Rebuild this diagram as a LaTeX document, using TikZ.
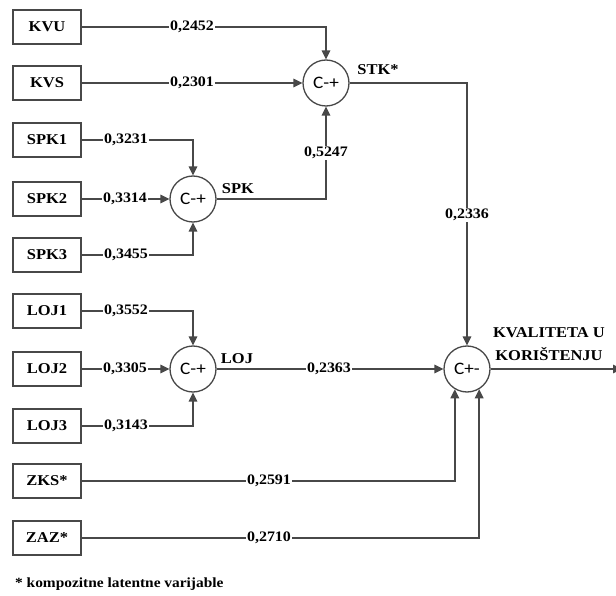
\documentclass[tikz,border=0pt]{standalone}
\usepackage{fontspec}
\setmainfont{Liberation Serif}[FakeStretch=1.1]
\newfontfamily\cfont{Carlito}[FakeStretch=1.1]
\usetikzlibrary{arrows.meta}
\definecolor{linec}{RGB}{72,72,72}
\begin{document}
\begin{tikzpicture}[x=1pt,y=-1pt,
  box/.style={draw=linec,line width=1.5pt,minimum width=68pt,minimum height=34pt,inner sep=0pt,
    font=\fontsize{15}{18}\selectfont\bfseries},
  comp/.style={draw=linec,line width=1.3pt,circle,minimum size=46pt,inner sep=0pt,
    font=\cfont\fontsize{17.5}{20}\selectfont},
  conn/.style={draw=linec,line width=1.5pt},
  arr/.style={conn,-{Triangle[length=9pt,width=8.5pt]}},
  lbl/.style={fill=white,inner sep=1pt,font=\fontsize{14.5}{17}\selectfont\bfseries},
  tag/.style={inner sep=0pt,font=\fontsize{15}{18}\selectfont\bfseries}]
\useasboundingbox[fill=white] (0,0) rectangle (616,596);
% boxes
\node[box] (kvu) at (47,27) {KVU};
\node[box] (kvs) at (47,83) {KVS};
\node[box] (spk1) at (47,140) {SPK1};
\node[box] (spk2) at (47,199) {SPK2};
\node[box] (spk3) at (47,255) {SPK3};
\node[box] (loj1) at (47,311) {LOJ1};
\node[box] (loj2) at (47,369) {LOJ2};
\node[box] (loj3) at (47,426) {LOJ3};
\node[box] (zks) at (47,481) {ZKS*};
\node[box] (zaz) at (47,538) {ZAZ*};
% composites
\node[comp] (stk) at (326,83) {C-+};
\node[comp] (spk) at (193,199) {C-+};
\node[comp] (loj) at (193,369) {C-+};
\node[comp] (kq) at (467,369) {C+-};
\coordinate (out) at (622,369);
% connectors
\draw[arr] (kvu.east) -| (stk.north);
\draw[arr] (kvs.east) -- (stk.west);
\draw[arr] (spk1.east) -| (spk.north);
\draw[arr] (spk2.east) -- (spk.west);
\draw[arr] (spk3.east) -| (spk.south);
\draw[arr] (spk.east) -| (stk.south);
\draw[arr] (loj1.east) -| (loj.north);
\draw[arr] (loj2.east) -- (loj.west);
\draw[arr] (loj3.east) -| (loj.south);
\draw[arr] (stk.east) -| (kq.north);
\draw[arr] (loj.east) -- (kq.west);
\draw[arr] (zks.east) -| (kq.-121);
\draw[arr] (zaz.east) -| (kq.-59);
\draw[arr] (kq.east) -- (out);
% weights
\node[lbl] at (192,27) {0,2452};
\node[lbl] at (192,83) {0,2301};
\node[lbl] at (126,140) {0,3231};
\node[lbl] at (125,199) {0,3314};
\node[lbl] at (126,255) {0,3455};
\node[lbl] at (326,153) {0,5247};
\node[lbl] at (126,311) {0,3552};
\node[lbl] at (125,369) {0,3305};
\node[lbl] at (126,426) {0,3143};
\node[lbl] at (467,215) {0,2336};
\node[lbl] at (329,369) {0,2363};
\node[lbl] at (269,481) {0,2591};
\node[lbl] at (269,538) {0,2710};
% names
\node[tag] (stkname) at (378,70) {STK*};
\node[tag] (spkname) at (238,189) {SPK};
\node[tag] (lojname) at (237,359) {LOJ};
\node[tag,align=center,font=\fontsize{15}{23}\selectfont\bfseries] (kqname) at (549,344) {KVALITETA U\\KORIŠTENJU};
\node[anchor=west,inner sep=0pt,font=\fontsize{14}{16}\selectfont\bfseries] (note) at (15,584) {* kompozitne latentne varijable};
\end{tikzpicture}
\end{document}
